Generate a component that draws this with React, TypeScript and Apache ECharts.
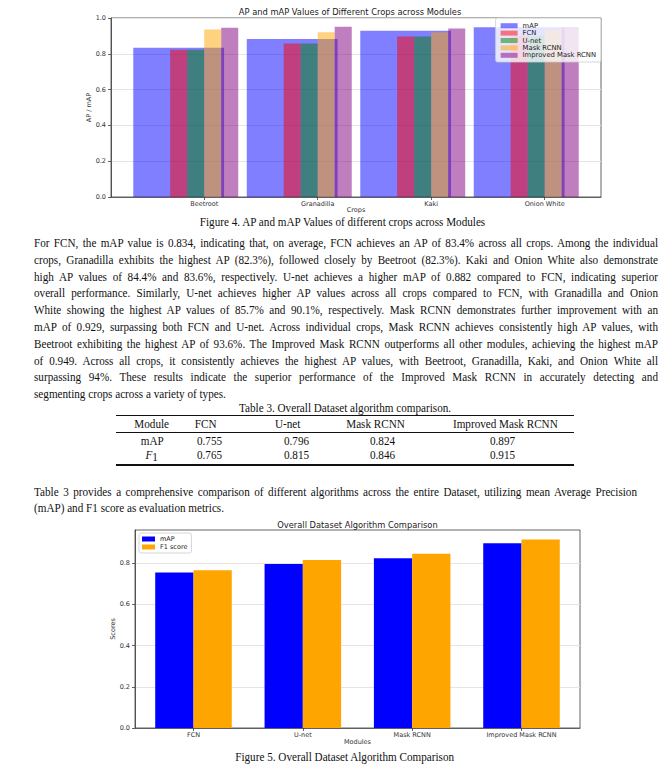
import React, { useEffect, useLayoutEffect, useRef } from 'react';
import * as echarts from 'echarts';

// ---------- Figure 4 data ----------
const crops = ['Beetroot', 'Granadilla', 'Kaki', 'Onion White'];
const moduleMAP = [0.834, 0.882, 0.929, 0.949];
const fcnAP = [0.823, 0.857, 0.897, 0.901];
const unetAP = [0.823, 0.857, 0.897, 0.901];
const maskAP = [0.936, 0.921, 0.92, 0.935];
const improvedAP = [0.946, 0.951, 0.942, 0.95];
const yTicks1 = [0, 0.2, 0.4, 0.6, 0.8, 1.0];

// ---------- Figure 5 / Table 3 data ----------
const modules = ['FCN', 'U-net', 'Mask RCNN', 'Improved Mask RCNN'];
const overallMAP = [0.755, 0.796, 0.824, 0.897];
const overallF1 = [0.765, 0.815, 0.846, 0.915];
const yTicks2 = [0, 0.2, 0.4, 0.6, 0.8];

// ---------- Text ----------
const para1 = [
  'For FCN, the mAP value is 0.834, indicating that, on average, FCN achieves an AP of 83.4% across all crops. Among the individual',
  'crops, Granadilla exhibits the highest AP (82.3%), followed closely by Beetroot (82.3%). Kaki and Onion White also demonstrate',
  'high AP values of 84.4% and 83.6%, respectively. U-net achieves a higher mAP of 0.882 compared to FCN, indicating superior',
  'overall performance. Similarly, U-net achieves higher AP values across all crops compared to FCN, with Granadilla and Onion',
  'White showing the highest AP values of 85.7% and 90.1%, respectively. Mask RCNN demonstrates further improvement with an',
  'mAP of 0.929, surpassing both FCN and U-net. Across individual crops, Mask RCNN achieves consistently high AP values, with',
  'Beetroot exhibiting the highest AP of 93.6%. The Improved Mask RCNN outperforms all other modules, achieving the highest mAP',
  'of 0.949. Across all crops, it consistently achieves the highest AP values, with Beetroot, Granadilla, Kaki, and Onion White all',
  'surpassing 94%. These results indicate the superior performance of the Improved Mask RCNN in accurately detecting and',
  'segmenting crops across a variety of types.',
];
const para2 = [
  'Table 3 provides a comprehensive comparison of different algorithms across the entire Dataset, utilizing mean Average Precision',
  '(mAP) and F1 score as evaluation metrics.',
];
const caption4 = 'Figure 4. AP and mAP Values of different crops across Modules';
const caption5 = 'Figure 5. Overall Dataset Algorithm Comparison';
const tableTitle = 'Table 3. Overall Dataset algorithm comparison.';
const tableHeader = ['Module', 'FCN', 'U-net', 'Mask RCNN', 'Improved Mask RCNN'];

const SERIF = '"Liberation Serif", "Times New Roman", serif';
const SANS = '"DejaVu Sans", sans-serif';
const S = 0.93;

const AXIS_C = '#3c3c3c';
const GRID_C = '#e4e4e4';

function barRenderer(color: string) {
  return (params: any, api: any) => {
    const x = api.value(0);
    const v = api.value(1);
    const w = api.value(2);
    const tl = api.coord([x - w / 2, v]);
    const br = api.coord([x + w / 2, 0]);
    return {
      type: 'rect',
      shape: { x: tl[0], y: tl[1], width: br[0] - tl[0], height: br[1] - tl[1] },
      style: { fill: color },
    };
  };
}

function barSeries(name: string, values: number[], offset: number, width: number, color: string) {
  return {
    type: 'custom',
    name,
    renderItem: barRenderer(color),
    itemStyle: { color },
    encode: { x: 0, y: 1 },
    clip: true,
    data: values.map((v, i) => [i + offset, v, width]),
  };
}

const axisLineStyle = { show: true, onZero: false, lineStyle: { color: AXIS_C, width: 0.8 } };
const labelStyle = { fontSize: 6.5, color: '#333', fontFamily: SANS };

function option1(): any {
  const groupOffsets = [-0.225, -0.075, 0.075, 0.225];
  const bw = 0.15;
  const mapW = 0.8;
  const lo = groupOffsets[0] - mapW / 2;
  const hi = crops.length - 1 + groupOffsets[3] + bw / 2;
  const pad = (hi - lo) * 0.05;
  const left = 111, top = 18, width = 490, height = 179;
  const series = [
    barSeries('mAP', moduleMAP, groupOffsets[0], mapW, 'rgba(0,0,255,0.5)'),
    barSeries('FCN', fcnAP, groupOffsets[0], bw, 'rgba(255,0,0,0.5)'),
    barSeries('U-net', unetAP, groupOffsets[1], bw, 'rgba(0,128,0,0.5)'),
    barSeries('Mask RCNN', maskAP, groupOffsets[2], bw, 'rgba(255,165,0,0.5)'),
    barSeries('Improved Mask RCNN', improvedAP, groupOffsets[3], bw, 'rgba(128,0,128,0.5)'),
  ];
  return {
    animation: false,
    textStyle: { fontFamily: SANS },
    grid: { left, top, width, height, outerBoundsMode: 'none', containLabel: false, show: true, borderColor: AXIS_C, borderWidth: 0.8, backgroundColor: 'transparent' },
    graphic: [
      {
        type: 'text', x: left + width / 2 - 6, y: 12,
        style: { text: 'AP and mAP Values of Different Crops across Modules', textAlign: 'center', textVerticalAlign: 'middle', fontSize: 8.3, fill: '#222', fontFamily: SANS },
      },
    ],
    legend: {
      orient: 'vertical', right: 667 - 601, top: 18,
      itemWidth: 17, itemHeight: 5, itemGap: 0, icon: 'rect',
      padding: [4, 5, 3, 5],
      backgroundColor: 'rgba(255,255,255,0.8)', borderColor: '#cccccc', borderWidth: 0.8, borderRadius: 2,
      textStyle: { fontSize: 6.8, lineHeight: 7.4, color: '#222', fontFamily: SANS },
      data: series.map((s) => s.name),
    },
    xAxis: {
      type: 'value', min: lo - pad, max: hi + pad,
      axisLine: axisLineStyle,
      axisTick: { show: true, length: 3, lineStyle: { color: AXIS_C, width: 0.8 }, customValues: crops.map((_, i) => i) },
      axisLabel: { ...labelStyle, customValues: crops.map((_, i) => i), formatter: (v: number) => crops[Math.round(v)] ?? '', margin: 3.5 },
      splitLine: { show: false },
      name: 'Crops', nameLocation: 'middle', nameGap: 9, nameMoveOverlap: false,
      nameTextStyle: labelStyle,
    },
    yAxis: {
      type: 'value', min: 0, max: 1, interval: 0.2,
      axisLine: axisLineStyle,
      axisTick: { show: true, length: 3, lineStyle: { color: AXIS_C, width: 0.8 }, customValues: yTicks1 },
      axisLabel: { ...labelStyle, customValues: yTicks1, formatter: (v: number) => v.toFixed(1), margin: 5 },
      splitLine: { show: true, lineStyle: { color: GRID_C, width: 1.2 } },
      name: 'AP / mAP', nameLocation: 'middle', nameGap: 19, nameMoveOverlap: false,
      nameTextStyle: labelStyle,
    },
    series,
  };
}

const CH2_TOP = 510;

function option2(): any {
  const offsets = [-0.175, 0.175];
  const bw = 0.35;
  const lo = offsets[0] - bw / 2;
  const hi = modules.length - 1 + offsets[1] + bw / 2;
  const pad = (hi - lo) * 0.05;
  const yMax = Math.max(...overallF1, ...overallMAP) * 1.05;
  const left = 135, top = 530 - CH2_TOP, width = 445, height = 198;
  const series = [
    barSeries('mAP', overallMAP, offsets[0], bw, '#0000ff'),
    barSeries('F1 score', overallF1, offsets[1], bw, '#ffa500'),
  ];
  return {
    animation: false,
    textStyle: { fontFamily: SANS },
    grid: { left, top, width, height, outerBoundsMode: 'none', containLabel: false, show: true, borderColor: AXIS_C, borderWidth: 0.8, backgroundColor: 'transparent' },
    graphic: [
      {
        type: 'text', x: left + width / 2, y: 525 - CH2_TOP,
        style: { text: 'Overall Dataset Algorithm Comparison', textAlign: 'center', textVerticalAlign: 'middle', fontSize: 8.3, fill: '#222', fontFamily: SANS },
      },
    ],
    legend: {
      orient: 'vertical', left: 139, top: 533 - CH2_TOP,
      itemWidth: 13, itemHeight: 5, itemGap: 0, icon: 'rect',
      padding: [2, 4, 2, 3],
      backgroundColor: 'rgba(255,255,255,0.8)', borderColor: '#cccccc', borderWidth: 0.8, borderRadius: 2,
      textStyle: { fontSize: 6.5, lineHeight: 8, color: '#222', fontFamily: SANS },
      data: series.map((s) => s.name),
    },
    xAxis: {
      type: 'value', min: lo - pad, max: hi + pad,
      axisLine: axisLineStyle,
      axisTick: { show: true, length: 3, lineStyle: { color: AXIS_C, width: 0.8 }, customValues: modules.map((_, i) => i) },
      axisLabel: { ...labelStyle, customValues: modules.map((_, i) => i), formatter: (v: number) => modules[Math.round(v)] ?? '', margin: 3.5 },
      splitLine: { show: false },
      name: 'Modules', nameLocation: 'middle', nameGap: 10.5, nameMoveOverlap: false,
      nameTextStyle: labelStyle,
    },
    yAxis: {
      type: 'value', min: 0, max: yMax,
      axisLine: axisLineStyle,
      axisTick: { show: true, length: 3, lineStyle: { color: AXIS_C, width: 0.8 }, customValues: yTicks2 },
      axisLabel: { ...labelStyle, customValues: yTicks2, formatter: (v: number) => v.toFixed(1), margin: 5 },
      splitLine: { show: true, lineStyle: { color: GRID_C, width: 1.2 } },
      name: 'Scores', nameLocation: 'middle', nameGap: 18.5, nameMoveOverlap: false,
      nameTextStyle: labelStyle,
    },
    series,
  };
}

function Chart({ top, height, option }: { top: number; height: number; option: () => any }) {
  const ref = useRef<HTMLDivElement>(null);
  useEffect(() => {
    const c = echarts.init(ref.current as HTMLDivElement, null, { renderer: 'svg' });
    c.setOption(option());
    return () => c.dispose();
  }, []);
  return <div ref={ref} style={{ position: 'absolute', left: 0, top, width: 667, height }} />;
}

function Txt({ left, y, width, align = 'left', fit = 'n', children, size = 12 }: any) {
  return (
    <div style={{ position: 'absolute', left, top: y - 7, width, height: 14, lineHeight: '14px', whiteSpace: 'nowrap', textAlign: align, fontFamily: SERIF, fontSize: size, color: '#111' }}>
      <span data-fit={fit} data-w={width} style={{ display: 'inline-block', transformOrigin: align === 'center' ? '50% 50%' : '0 50%' }}>{children}</span>
    </div>
  );
}

function Rule({ y, w }: { y: number; w: number }) {
  return <div style={{ position: 'absolute', left: 116, top: y - w / 2, width: 574 - 116, height: w, background: '#111' }} />;
}

const TL = 34, TR = 658;
const P1_Y0 = 243, P1_DY = 16.8;
const headerCx = [152, 206, 288, 376, 505];
const valueCx = [152, 209, 296, 382, 502];

export default function App() {
  useLayoutEffect(() => {
    const spans = document.querySelectorAll<HTMLSpanElement>('span[data-fit]');
    spans.forEach((sp) => {
      sp.style.wordSpacing = '0px';
      sp.style.transform = 'none';
      const W = parseFloat(sp.dataset.w || '0');
      const natural = sp.getBoundingClientRect().width;
      if (sp.dataset.fit === 'j') {
        const spaces = ((sp.textContent || '').match(/ /g) || []).length;
        const target = W / S;
        if (natural < target && spaces > 0) {
          sp.style.wordSpacing = (target - natural) / spaces + 'px';
          sp.style.transform = `scaleX(${S})`;
        } else {
          sp.style.transform = `scaleX(${W / natural})`;
        }
      } else {
        sp.style.transform = `scaleX(${S})`;
      }
    });
  }, []);

  return (
    <div style={{ position: 'absolute', left: 0, top: 0, width: 667, height: 772, background: '#fff', overflow: 'hidden' }}>
      <Chart top={0} height={216} option={option1} />
      <Chart top={CH2_TOP} height={240} option={option2} />
      <Txt left={342 - 250} y={222} width={500} align="center">{caption4}</Txt>
      {para1.map((t, i) => (
        <Txt key={'p1' + i} left={TL} y={P1_Y0 + i * P1_DY} width={TR - TL} fit={i < para1.length - 1 ? 'j' : 'n'}>{t}</Txt>
      ))}
      <Txt left={345 - 250} y={408} width={500} align="center">{tableTitle}</Txt>
      <Rule y={415.5} w={1.3} />
      {tableHeader.map((h, i) => (
        <Txt key={'h' + i} left={headerCx[i] - 80} y={424} width={160} align="center">{h}</Txt>
      ))}
      <Rule y={432} w={0.8} />
      <Txt left={valueCx[0] - 80} y={441} width={160} align="center">mAP</Txt>
      {overallMAP.map((v, i) => (
        <Txt key={'m' + i} left={valueCx[i + 1] - 80} y={441} width={160} align="center">{v.toFixed(3)}</Txt>
      ))}
      <Txt left={valueCx[0] - 80} y={455} width={160} align="center">
        <span style={{ fontStyle: 'italic' }}>F</span>
        <span style={{ position: 'relative', top: 2 }}>1</span>
      </Txt>
      {overallF1.map((v, i) => (
        <Txt key={'f' + i} left={valueCx[i + 1] - 80} y={455} width={160} align="center">{v.toFixed(3)}</Txt>
      ))}
      <Rule y={465} w={1.3} />
      <Txt left={TL} y={492} width={637 - TL} fit="j">{para2[0]}</Txt>
      <Txt left={TL} y={508} width={637 - TL}>{para2[1]}</Txt>
      <Txt left={345 - 250} y={757} width={500} align="center">{caption5}</Txt>
    </div>
  );
}
